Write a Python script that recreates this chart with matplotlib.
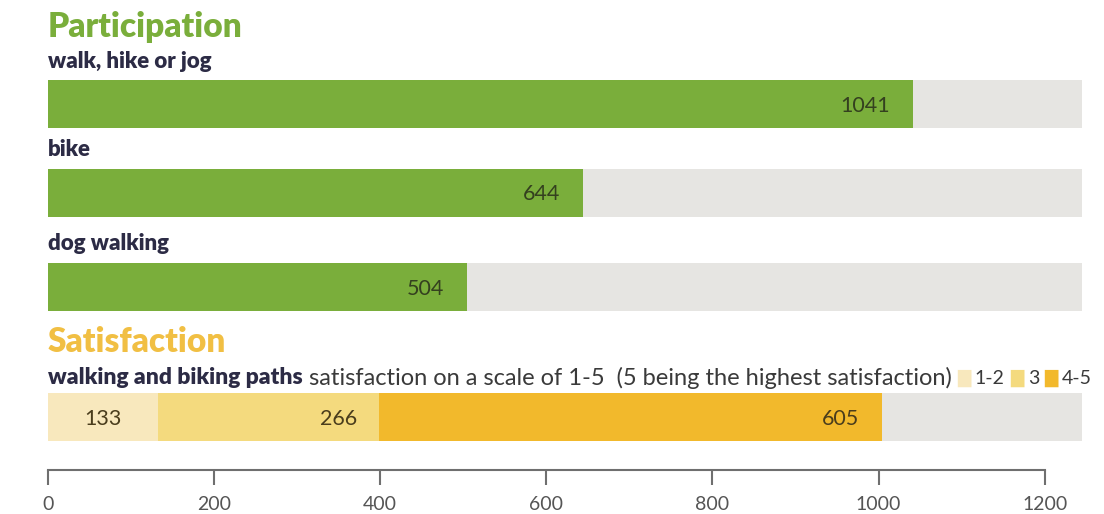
import matplotlib.pyplot as plt

# participation counts
activities = ["walk, hike or jog", "bike", "dog walking"]
participants = [1041, 644, 504]

# satisfaction with walking and biking paths
sat_groups = ["1-2", "3", "4-5"]
sat_counts = [133, 266, 605]

ticks = [0, 200, 400, 600, 800, 1000, 1200]

GREEN = "#7aae3b"
TRACK = "#e6e5e2"
SAT_COLORS = ["#f8e8bd", "#f4da7e", "#f2b92c"]
NAVY = "#2c2b45"
FONT = "Lato"
TRACK_END = 1245

W, H = 1104, 514
fig = plt.figure(figsize=(W / 100, H / 100), dpi=100)
fig.patch.set_facecolor("white")

left, width = 48 / W, 1034 / W
ax = fig.add_axes([left, 0, width, 1])
ax.set_xlim(0, TRACK_END)
ax.set_ylim(H, 0)
ax.axis("off")

ax.text(0, 27, "Participation", color=GREEN, fontsize=24, fontweight="heavy",
        family=FONT, va="center", ha="left")

rows = [104, 192.5, 287]
for name, val, yc in zip(activities, participants, rows):
    ax.text(0, yc - 43, name, color=NAVY, fontsize=16, fontweight="heavy",
            family=FONT, va="center", ha="left")
    ax.barh(yc, TRACK_END, height=48, color=TRACK, left=0)
    ax.barh(yc, val, height=48, color=GREEN, left=0)
    ax.annotate(str(val), xy=(val, yc + 2), xytext=(-16, 0),
                textcoords="offset points", ha="right", va="center",
                fontsize=15.5, family=FONT, color="#34401f")

ax.text(0, 342, "Satisfaction", color="#f1bf43", fontsize=24,
        fontweight="heavy", family=FONT, va="center", ha="left")

sub = ax.text(0, 378, "walking and biking paths", color=NAVY, fontsize=16.5,
              fontweight="heavy", family=FONT, va="center", ha="left")
prev = ax.annotate(" satisfaction on a scale of 1-5  (5 being the highest satisfaction)",
                   xy=(1, 0.5), xycoords=sub, va="center", ha="left",
                   fontsize=17, family=FONT, color="#3a3a3a")
# colour key for the stacked bar
for lab, col in zip(sat_groups, SAT_COLORS):
    sq = ax.annotate("\u2588", xy=(1, 0.5), xycoords=prev, xytext=(4, 0),
                     textcoords="offset points", va="center", ha="left",
                     fontsize=12.5, color=col, family="DejaVu Sans")
    prev = ax.annotate(lab, xy=(1, 0.5), xycoords=sq, xytext=(3, 0),
                       textcoords="offset points", va="center", ha="left",
                       fontsize=14, family=FONT, color="#3a3a3a")

ysat = 417
ax.barh(ysat, TRACK_END, height=48, color=TRACK, left=0)
start = 0
for i, (val, col) in enumerate(zip(sat_counts, SAT_COLORS)):
    ax.barh(ysat, val, height=48, left=start, color=col)
    end = start + val
    if i == 0:
        ax.text(start + val / 2, ysat + 2, str(val), ha="center", va="center",
                fontsize=15.5, family=FONT, color="#4a3d1c")
    else:
        ax.annotate(str(val), xy=(end, ysat + 2), xytext=(-16, 0),
                    textcoords="offset points", ha="right", va="center",
                    fontsize=15.5, family=FONT, color="#4a3d1c")
    start = end

# scale along the bottom
sax = fig.add_axes([left, (H - 470) / H, width, 0.0001])
sax.set_xlim(0, TRACK_END)
sax.set_facecolor("none")
for s in ["top", "left", "right"]:
    sax.spines[s].set_visible(False)
sax.spines["bottom"].set_bounds(0, 1200)
sax.spines["bottom"].set_color("#6f6f6f")
sax.spines["bottom"].set_linewidth(1.5)
sax.set_yticks([])
sax.set_xticks(ticks)
sax.set_xticklabels([str(t) for t in ticks])
sax.tick_params(axis="x", direction="out", length=11, width=1.5,
                color="#6f6f6f", labelcolor="#555555", labelsize=14, pad=8)
for t in sax.get_xticklabels():
    t.set_family(FONT)

fig.savefig("out.png", dpi=100, facecolor="white")
